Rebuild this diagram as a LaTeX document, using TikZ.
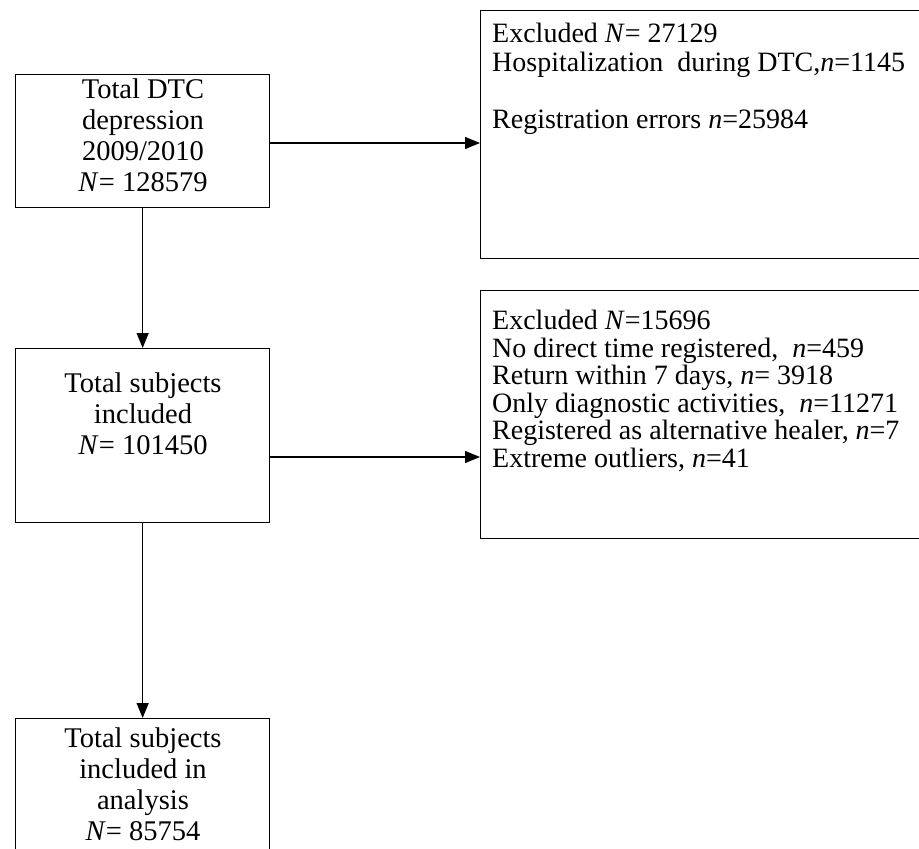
\documentclass[tikz,border=0pt]{standalone}
\usepackage{fontspec}
\setmainfont{Liberation Serif}
\usetikzlibrary{arrows.meta}
\begin{document}
\begin{tikzpicture}[x=1pt,y=-1pt,
  box/.style={draw, line width=1.3pt, inner sep=0pt, anchor=north west},
  ltext/.style={align=center, font=\fontsize{28.5}{31}\selectfont, inner sep=0pt, anchor=north},
  rtext/.style={align=left, font=\fontsize{28}{27.5}\selectfont, inner sep=0pt, anchor=north west},
  arr/.style={line width=1.3pt, -{Triangle[length=15pt,width=12pt]}}]
\useasboundingbox[fill=white] (0,0) rectangle (919,849);
% left boxes
\node[box, minimum width=254pt, minimum height=133pt] (b1) at (15,74) {};
\node[box, minimum width=254pt, minimum height=174pt] (b2) at (15,348) {};
\node[box, minimum width=254pt, minimum height=150pt] (b3) at (15,718) {};
% right boxes
\node[box, minimum width=460pt, minimum height=248pt] (r1) at (480,10) {};
\node[box, minimum width=460pt, minimum height=248pt] (r2) at (480,290) {};
% texts
\node[ltext] (t1) at (143,79) {Total DTC\\depression\\2009/2010\\\textit{N}= 128579};
\node[ltext] (t2) at (143,373) {Total subjects\\included\\\textit{N}= 101450};
\node[ltext] (t3) at (143,728) {Total subjects\\included in\\analysis\\\textit{N}= 85754};
\node[rtext, font=\fontsize{28}{28.5}\selectfont] (u1) at (492,23) {Excluded \textit{N}= 27129\\Hospitalization\ \ during DTC,\textit{n}=1145\\[28.5pt]Registration errors \textit{n}=25984};
\node[rtext] (u2) at (492,310) {Excluded \textit{N}=15696\\No direct time registered,\ \ \textit{n}=459\\Return within 7 days, \textit{n}= 3918\\Only diagnostic activities,\ \ \textit{n}=11271\\Registered as alternative healer, \textit{n}=7\\Extreme outliers, \textit{n}=41};
% connectors
\draw[arr] (b1.south) -- (b2.north);
\draw[arr] (b2.south) -- (b3.north);
\draw[arr] (b1.east |- 0,143) -- (r1.west |- 0,143);
\draw[arr] (b2.east |- 0,457) -- (r2.west |- 0,457);
\end{tikzpicture}
\end{document}
